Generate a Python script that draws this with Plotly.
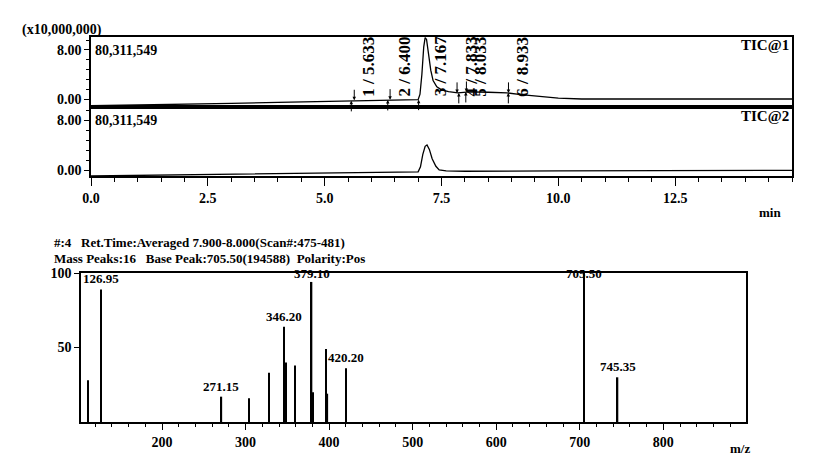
from plotly.graph_objects import Figure as plotly_Figure, Scatter as plotly_Scatter, Bar as plotly_Bar

# TIC@1 trace, intensity in units of 10,000,000
tic1_time = [0.0, 1.0, 2.0, 3.0, 4.0, 5.0, 5.6, 6.4, 7.0, 7.04, 7.08, 7.12, 7.15, 7.18,
             7.22, 7.27, 7.32, 7.4, 7.5, 7.65, 7.85, 8.1, 8.5, 8.9, 9.2, 9.5, 10.0,
             10.5, 11.0, 12.0, 13.0, 14.0, 15.0]
tic1_value = [-1.1, -1.0, -0.85, -0.7, -0.55, -0.4, -0.3, -0.15, -0.1, 0.8, 4.0, 8.5, 10.0, 9.7,
              7.5, 4.7, 3.0, 2.0, 1.5, 1.2, 1.0, 1.15, 1.1, 1.0, 0.7, 0.5, 0.15,
              0.0, 0.0, 0.0, 0.0, 0.0, 0.0]

# TIC@2 trace
tic2_time = [0.0, 2.0, 4.0, 6.0, 7.0, 7.05, 7.1, 7.15, 7.19, 7.24, 7.3, 7.38, 7.45, 7.6,
             8.0, 10.0, 12.0, 15.0]
tic2_value = [-0.96, -0.8, -0.6, -0.4, -0.3, 0.5, 2.5, 3.8, 4.0, 3.3, 1.8, 0.6, 0.0, -0.15,
              -0.2, -0.15, -0.1, -0.05]

# integrated peaks on TIC@1
peak_no = [1, 2, 3, 4, 5, 6]
peak_rt = [5.633, 6.400, 7.167, 7.833, 8.033, 8.933]
down_arrow_rt = [5.633, 6.400, 7.833, 8.033, 8.933]
down_arrow_y = [-0.2, -0.1, 1.0, 1.15, 1.0]
up_arrow_rt = [5.57, 6.35, 7.01, 7.87, 8.02, 8.93]
up_arrow_y = [-0.3, -0.15, -0.1, 1.0, 1.15, 1.0]

# mass spectrum, scan #4 (relative intensity %)
ms_mz = [111.0, 126.95, 271.15, 304.0, 328.0, 346.2, 348.2, 359.0, 379.1, 381.1,
         396.0, 398.0, 420.2, 705.5, 745.35]
ms_int = [28, 89, 17, 16, 33, 64, 40, 38, 94, 20, 49, 19, 36, 100, 30]
ms_labelled = [126.95, 271.15, 346.2, 379.1, 420.2, 705.5, 745.35]

chrom_ticks = [0.0, 2.5, 5.0, 7.5, 10.0, 12.5]
ms_ticks = [200, 300, 400, 500, 600, 700, 800]

W, H = 830, 476
PAGE_PAD = 8  # the page body adds its own 8px margin


def px_x(x):
    return (x - PAGE_PAD) / W


def px_y(y):
    return 1 - (y - PAGE_PAD) / H


fig = plotly_Figure()
fig.add_trace(plotly_Scatter(x=tic1_time, y=tic1_value, mode="lines",
                             line=dict(color="black", width=1.3), xaxis="x", yaxis="y"))
fig.add_trace(plotly_Scatter(x=tic2_time, y=tic2_value, mode="lines",
                             line=dict(color="black", width=1.3), xaxis="x2", yaxis="y2"))
fig.add_trace(plotly_Bar(x=ms_mz, y=ms_int, width=1.6, marker=dict(color="black", line=dict(width=0)),
                         xaxis="x3", yaxis="y3"))

axis_common = dict(showline=True, linecolor="black", linewidth=1.5, mirror=True, automargin=False,
                   showgrid=False, zeroline=False, ticks="outside", tickcolor="black")
chrom_dom = [px_x(91), px_x(792)]

fig.update_layout(
    width=W, height=H, showlegend=False,
    margin=dict(l=0, r=0, t=0, b=0, autoexpand=False),
    paper_bgcolor="white", plot_bgcolor="white",
    font=dict(family="Liberation Serif", size=14, color="black", weight="bold"),
    xaxis=dict(axis_common, domain=chrom_dom, range=[0, 15], anchor="y",
               showticklabels=False, ticks=""),
    yaxis=dict(axis_common, domain=[px_y(107), px_y(37)], range=[-1.3, 10.1], anchor="x",
               tickvals=[0, 8], ticktext=["0.00", "8.00"], ticklen=5,
               minor=dict(dtick=1.6, tick0=0, ticklen=3, ticks="outside", tickcolor="black")),
    xaxis2=dict(axis_common, domain=chrom_dom, range=[0, 15], anchor="y2",
                tickvals=chrom_ticks, ticktext=[f"{t:.1f}" for t in chrom_ticks], ticklen=8,
                minor=dict(dtick=0.5, tick0=0, ticklen=4, ticks="outside", tickcolor="black")),
    yaxis2=dict(axis_common, domain=[px_y(176), px_y(107)], range=[-0.96, 10.1], anchor="x2",
                tickvals=[0, 8], ticktext=["0.00", "8.00"], ticklen=5,
                minor=dict(dtick=1.6, tick0=0, ticklen=3, ticks="outside", tickcolor="black")),
    xaxis3=dict(axis_common, domain=[px_x(81), px_x(746)], range=[103, 899], anchor="y3",
                tickvals=ms_ticks, ticklen=6,
                minor=dict(dtick=20, tick0=0, ticklen=3, ticks="outside", tickcolor="black")),
    yaxis3=dict(axis_common, domain=[px_y(422), px_y(273)], range=[0, 100], anchor="x3",
                tickvals=[50, 100], ticklen=5),
)

notes = [
    ("(x10,000,000)", 20, 30, "left", 14),
    ("80,311,549", 93, 50, "left", 14),
    ("80,311,549", 93, 120, "left", 14),
    ("TIC@1", 791, 45, "right", 15),
    ("TIC@2", 791, 116, "right", 15),
    ("min", 770, 212, "center", 13),
    ("#:4\u00a0\u00a0\u00a0Ret.Time:Averaged 7.900-8.000(Scan#:475-481)", 52, 242, "left", 13),
    ("Mass Peaks:16\u00a0\u00a0\u00a0Base Peak:705.50(194588)\u00a0\u00a0Polarity:Pos", 52, 258, "left", 13),
    ("m/z", 740, 448, "center", 13),
]
for text, x, y, anchor, size in notes:
    fig.add_annotation(text=text, x=px_x(x), y=px_y(y), xref="paper", yref="paper",
                       xanchor=anchor, yanchor="middle", showarrow=False, font=dict(size=size))

# peak labels, rotated
for n, rt in zip(peak_no, peak_rt):
    fig.add_annotation(text=f"{n} / {rt:.3f}", x=rt, y=0.1, xref="x", yref="y",
                       textangle=-90, xanchor="center", yanchor="bottom", xshift=14,
                       showarrow=False, font=dict(size=17))
for rt, yv in zip(down_arrow_rt, down_arrow_y):
    fig.add_annotation(x=rt, y=yv, xref="x", yref="y", text="", showarrow=True,
                       ax=0, ay=-12, arrowhead=2, arrowsize=0.7, arrowwidth=1, arrowcolor="black")
for rt, yv in zip(up_arrow_rt, up_arrow_y):
    fig.add_annotation(x=rt, y=yv, xref="x", yref="y", text="", showarrow=True,
                       ax=0, ay=12, arrowhead=2, arrowsize=0.7, arrowwidth=1, arrowcolor="black")

# mass peak labels, kept inside the box for the tallest lines
for mz, inten in zip(ms_mz, ms_int):
    if mz in ms_labelled:
        fig.add_annotation(text=f"{mz:.2f}", x=mz, y=min(inten, 92.5), xref="x3", yref="y3",
                           xanchor="center", yanchor="bottom", showarrow=False, yshift=1,
                           font=dict(size=13))

fig.write_html("out.html")
